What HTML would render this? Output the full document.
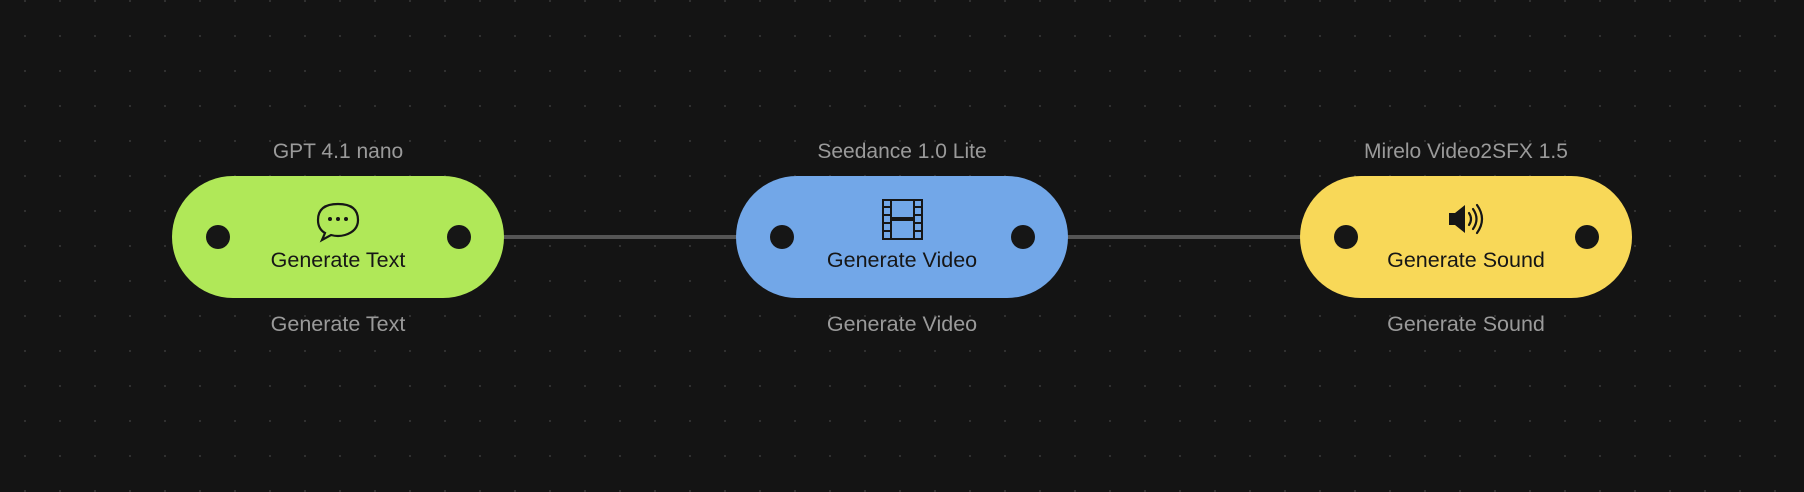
<!DOCTYPE html>
<html><head><meta charset="utf-8"><style>
html,body{margin:0;padding:0;background:#141414;}
svg{display:block}
text{font-family:"Liberation Sans",sans-serif;}
</style></head><body>
<svg width="1804" height="492" viewBox="0 0 1804 492" xmlns="http://www.w3.org/2000/svg">
<defs>
<pattern id="g" x="24" y="0" width="35" height="35" patternUnits="userSpaceOnUse">
<rect x="0" y="0" width="2" height="2" fill="#303030"/>
</pattern>
</defs>
<rect width="1804" height="492" fill="#141414"/>
<rect width="1804" height="492" fill="url(#g)"/>
<line x1="459" y1="237" x2="1346" y2="237" stroke="#555" stroke-width="4"/>

<!-- node 1 -->
<rect x="172" y="176" width="332" height="122" rx="61" fill="#b0e858"/>
<circle cx="218" cy="237" r="12" fill="#161616"/>
<circle cx="459" cy="237" r="12" fill="#161616"/>
<g fill="none" stroke="#161616" stroke-width="2.2">
<path d="M325 233 L322 240 L331 235 Q338 237 345 235 Q358 231 358 220 Q358 204 338 204 Q318 204 318 220 Q318 229 325 233 Z"/>
</g>
<circle cx="330" cy="219" r="2" fill="#161616"/><circle cx="338" cy="219" r="2" fill="#161616"/><circle cx="346" cy="219" r="2" fill="#161616"/>
<text x="338" y="267" font-size="21.5" text-anchor="middle" fill="#161616">Generate Text</text>
<text x="338" y="158" font-size="21" text-anchor="middle" fill="#9a9a9a">GPT 4.1 nano</text>
<text x="338" y="331" font-size="21.5" text-anchor="middle" fill="#9a9a9a">Generate Text</text>

<!-- node 2 -->
<rect x="736" y="176" width="332" height="122" rx="61" fill="#72a7e8"/>
<circle cx="782" cy="237" r="12" fill="#161616"/>
<circle cx="1023" cy="237" r="12" fill="#161616"/>
<g fill="none" stroke="#161616" stroke-width="2">
<rect x="883" y="200" width="39" height="39"/>
<line x1="891" y1="200" x2="891" y2="239"/><line x1="914" y1="200" x2="914" y2="239"/>
<line x1="883" y1="207" x2="891" y2="207"/><line x1="883" y1="215" x2="891" y2="215"/><line x1="883" y1="223" x2="891" y2="223"/><line x1="883" y1="231" x2="891" y2="231"/>
<line x1="914" y1="207" x2="922" y2="207"/><line x1="914" y1="215" x2="922" y2="215"/><line x1="914" y1="223" x2="922" y2="223"/><line x1="914" y1="231" x2="922" y2="231"/>
</g>
<rect x="891" y="217" width="23" height="4" fill="#161616"/>
<text x="902" y="267" font-size="21.5" text-anchor="middle" fill="#161616">Generate Video</text>
<text x="902" y="158" font-size="21" text-anchor="middle" fill="#9a9a9a">Seedance 1.0 Lite</text>
<text x="902" y="331" font-size="21.5" text-anchor="middle" fill="#9a9a9a">Generate Video</text>

<!-- node 3 -->
<rect x="1300" y="176" width="332" height="122" rx="61" fill="#f8d858"/>
<circle cx="1346" cy="237" r="12" fill="#161616"/>
<circle cx="1587" cy="237" r="12" fill="#161616"/>
<path d="M1449 213 H1455 L1465 205 V233 L1455 225 H1449 Z" fill="#161616"/>
<g fill="none" stroke="#161616" stroke-width="2.2" stroke-linecap="round">
<path d="M1469 213 Q1473 219 1469 225"/>
<path d="M1473 209 Q1480 219 1473 229"/>
<path d="M1477 205 Q1487 219 1477 233"/>
</g>
<text x="1466" y="267" font-size="21.5" text-anchor="middle" fill="#161616">Generate Sound</text>
<text x="1466" y="158" font-size="21" text-anchor="middle" fill="#9a9a9a">Mirelo Video2SFX 1.5</text>
<text x="1466" y="331" font-size="21.5" text-anchor="middle" fill="#9a9a9a">Generate Sound</text>
</svg>
</body></html>
